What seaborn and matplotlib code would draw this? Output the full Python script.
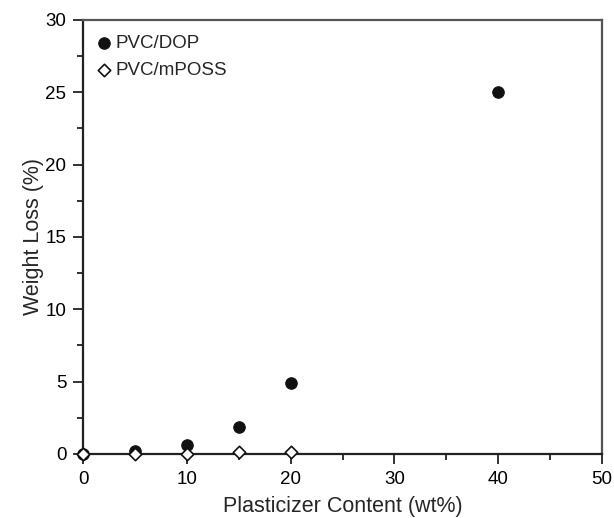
import matplotlib
matplotlib.use("Agg")
import matplotlib.pyplot as plt
from matplotlib.ticker import MultipleLocator
import pandas as pd
import seaborn as sns

# Weight loss of plasticized PVC vs plasticizer loading
dop_content = [0, 5, 10, 15, 20, 40]
dop_loss = [0.0, 0.2, 0.65, 1.85, 4.88, 25.0]
poss_content = [0, 5, 10, 15, 20]
poss_loss = [0.0, 0.03, 0.03, 0.15, 0.15]
series_names = ["PVC/DOP", "PVC/mPOSS"]

df = pd.concat([
    pd.DataFrame({"content": dop_content, "loss": dop_loss, "sample": series_names[0]}),
    pd.DataFrame({"content": poss_content, "loss": poss_loss, "sample": series_names[1]}),
], ignore_index=True)

sns.set_style("white")
plt.rcParams["font.family"] = ["Liberation Sans", "DejaVu Sans"]

fig = plt.figure(figsize=(6.14, 5.18), dpi=100)
ax = fig.add_axes([0.1352, 0.1236, 0.8453, 0.8378])

# filled circles for DOP, open diamonds for mPOSS
sns.scatterplot(
    data=df[df["sample"] == series_names[0]], x="content", y="loss",
    marker="o", s=68, color="#111111", edgecolor="#111111", linewidth=0.8,
    ax=ax, zorder=3, clip_on=False, label=series_names[0],
)
sns.scatterplot(
    data=df[df["sample"] == series_names[1]], x="content", y="loss",
    marker="D", s=40, color="white", edgecolor="#111111", linewidth=1.2,
    ax=ax, zorder=4, clip_on=False, label=series_names[1],
)

ax.set_xlim(0, 50)
ax.set_ylim(0, 30)
ax.xaxis.set_major_locator(MultipleLocator(10))
ax.xaxis.set_minor_locator(MultipleLocator(5))
ax.yaxis.set_major_locator(MultipleLocator(5))
ax.yaxis.set_minor_locator(MultipleLocator(2.5))
ax.tick_params(which="major", direction="out", length=7, width=1.3, colors="#222222",
               labelsize=13.5, pad=5, bottom=True, left=True, top=False, right=False)
ax.tick_params(which="minor", direction="out", length=4, width=1.3, colors="#222222",
               bottom=True, left=True, top=False, right=False)
ax.tick_params(axis="both", labelcolor="black")

for side in ["left", "bottom"]:
    ax.spines[side].set_color("#222222")
    ax.spines[side].set_linewidth(1.6)
for side in ["top", "right"]:
    ax.spines[side].set_color("#555555")
    ax.spines[side].set_linewidth(1.6)

ax.set_xlabel("Plasticizer Content (wt%)", fontsize=15.5, labelpad=6)
ax.set_ylabel("Weight Loss (%)", fontsize=15.5, labelpad=1)

leg = ax.legend(loc="upper left", bbox_to_anchor=(0.0, 0.992), frameon=False,
                fontsize=13.5, handletextpad=0.15, handlelength=1.0,
                borderaxespad=0.3, borderpad=0.3, labelspacing=0.55, markerscale=1.0)

fig.savefig("out.png", dpi=100)
